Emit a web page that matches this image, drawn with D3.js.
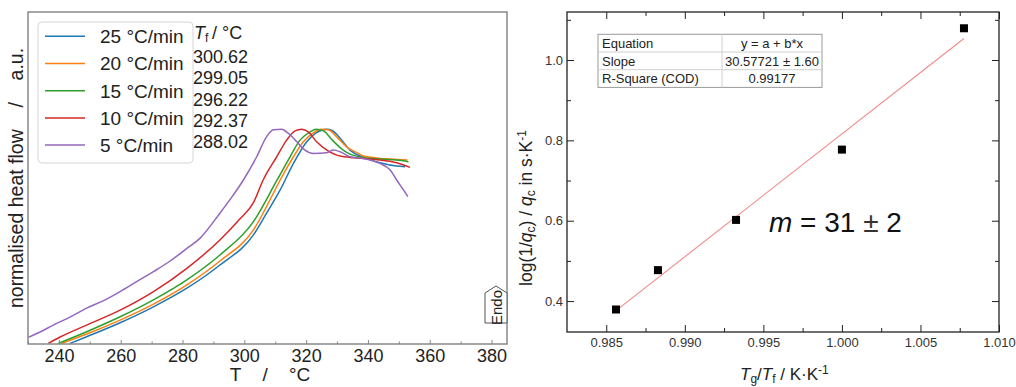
<!DOCTYPE html>
<html>
<head>
<meta charset="utf-8">
<script src="https://cdn.jsdelivr.net/npm/d3@7"></script>
<style>
  body { margin: 0; background: #fff; }
  svg { display: block; font-family: "Liberation Sans", Arial, sans-serif; }
</style>
</head>
<body>
<svg id="chart" width="1016" height="387"></svg>
<script>
// ---- DSC heating curves (temperature in °C, normalised heat flow in a.u.) ----
const rates = ["25 °C/min", "20 °C/min", "15 °C/min", "10 °C/min", "5 °C/min"];
const tfValues = ["300.62", "299.05", "296.22", "292.37", "288.02"];

const dsc25 = [[243.6,0.002],[249.0,0.022],[259.8,0.064],[270.6,0.112],[281.4,0.168],[292.1,0.238],[302.9,0.328],[307.2,0.394],[311.6,0.464],[315.9,0.544],[320.2,0.609],[323.2,0.636],[326.7,0.647],[328.4,0.643],[331.0,0.620],[334.2,0.584],[338.5,0.562],[343.9,0.546],[349.3,0.536],[352.0,0.534]];
const dsc20 = [[240.9,0.002],[249.0,0.030],[259.8,0.072],[270.6,0.120],[281.4,0.178],[292.1,0.250],[302.9,0.343],[309.4,0.454],[311.6,0.494],[315.9,0.564],[319.1,0.609],[322.3,0.636],[325.0,0.647],[327.2,0.645],[329.9,0.624],[333.1,0.594],[336.9,0.574],[338.5,0.566],[343.9,0.559],[349.3,0.556],[352.8,0.554]];
const dsc15 = [[239.8,0.002],[249.0,0.037],[259.8,0.082],[270.6,0.133],[281.4,0.193],[292.1,0.268],[302.9,0.368],[310.6,0.494],[314.8,0.564],[318.0,0.614],[321.3,0.639],[323.2,0.647],[325.6,0.642],[328.8,0.611],[332.0,0.584],[334.2,0.572],[338.5,0.562],[343.9,0.557],[349.3,0.554],[353.1,0.549]];
const dsc10 = [[236.6,0.002],[240.4,0.021],[249.0,0.057],[259.8,0.102],[270.6,0.158],[281.4,0.228],[292.1,0.313],[298.6,0.377],[302.9,0.425],[306.1,0.494],[310.5,0.564],[313.7,0.614],[316.4,0.642],[318.6,0.647],[320.7,0.639],[323.4,0.609],[326.7,0.584],[329.9,0.569],[334.2,0.562],[338.5,0.559],[343.9,0.554],[349.3,0.546],[353.6,0.532]];
const dsc5 = [[230.1,0.020],[233.9,0.036],[238.2,0.057],[243.6,0.081],[249.0,0.108],[254.3,0.130],[259.8,0.158],[265.0,0.187],[270.6,0.218],[276.0,0.250],[281.4,0.288],[285.7,0.319],[292.1,0.394],[296.0,0.443],[299.7,0.494],[304.0,0.564],[307.2,0.624],[309.4,0.645],[312.1,0.647],[314.2,0.635],[317.0,0.609],[319.6,0.584],[322.3,0.574],[326.7,0.576],[328.8,0.584],[331.0,0.579],[334.2,0.564],[338.5,0.559],[343.9,0.544],[347.2,0.524],[349.3,0.494],[351.5,0.464],[352.9,0.444]];
const dscSeries = [dsc25, dsc20, dsc15, dsc10, dsc5];
const seriesColors = ["#1f77b4", "#ff7f0e", "#2ca02c", "#d62728", "#9467bd"];

const tempTicks = [240, 260, 280, 300, 320, 340, 360, 380];
const tempMinorTicks = [230, 250, 270, 290, 310, 330, 350, 370];

// ---- Fragility plot: Tg/Tf vs log(1/qc)/qc ----
const ratioValues = [0.98562, 0.98829, 0.99326, 1.00000, 1.00777];
const logRateValues = [0.379, 0.477, 0.602, 0.777, 1.079];
const fitSlope = 30.57721;
const fitTable = [["Equation", "y = a + b*x"], ["Slope", "30.57721 ± 1.60"], ["R-Square (COD)", "0.99177"]];
const ratioTicks = [0.985, 0.990, 0.995, 1.000, 1.005, 1.010];
const ratioMinorTicks = [0.9875, 0.9925, 0.9975, 1.0025, 1.0075];
const logTicks = [0.4, 0.6, 0.8, 1.0];
const logMinorTicks = [0.5, 0.7, 0.9, 1.1];

const svg = d3.select("#chart");

// ================= Left panel: DSC curves =================
const L = { left: 28, right: 507, top: 12, bottom: 344 };
const xT = d3.scaleLinear().domain([230, 385]).range([L.left, L.right]);
const yH = d3.scaleLinear().domain([0, 1]).range([L.bottom, L.top]);

const left = svg.append("g");
left.append("clipPath").attr("id", "clipL").append("rect")
  .attr("x", L.left).attr("y", L.top).attr("width", L.right - L.left).attr("height", L.bottom - L.top);

const line = d3.line().x(d => xT(d[0])).y(d => yH(d[1])).curve(d3.curveMonotoneX);
left.append("g").attr("clip-path", "url(#clipL)")
  .selectAll("path").data(dscSeries).join("path")
  .attr("d", line).attr("fill", "none")
  .attr("stroke", (d, i) => seriesColors[i]).attr("stroke-width", 1.5);

// minor ticks
left.append("g").attr("transform", `translate(0,${L.bottom})`)
  .call(d3.axisBottom(xT).tickValues(tempMinorTicks).tickSizeInner(-2.5).tickSizeOuter(0).tickFormat(""))
  .call(g => g.select(".domain").remove())
  .call(g => g.selectAll("line").attr("stroke", "#888"));
// major ticks with labels
left.append("g").attr("transform", `translate(0,${L.bottom})`)
  .call(d3.axisBottom(xT).tickValues(tempTicks).tickSizeInner(-4).tickSizeOuter(0).tickPadding(5))
  .call(g => g.select(".domain").remove())
  .call(g => g.selectAll("line").attr("stroke", "#888"))
  .call(g => g.selectAll("text").attr("font-size", 18).attr("fill", "#222")
    .attr("font-family", "Liberation Sans, Arial, sans-serif"));

left.append("rect").attr("x", L.left).attr("y", L.top)
  .attr("width", L.right - L.left).attr("height", L.bottom - L.top)
  .attr("fill", "none").attr("stroke", "#808080").attr("stroke-width", 1.4);

// axis titles
left.append("text").attr("x", 270).attr("y", 381).attr("text-anchor", "middle")
  .attr("font-size", 19).attr("fill", "#222")
  .text("T\u00a0\u00a0\u00a0\u00a0/\u00a0\u00a0\u00a0\u00a0°C");
left.append("text").attr("transform", "translate(23,178) rotate(-90)").attr("text-anchor", "middle")
  .attr("font-size", 19.5).attr("fill", "#222")
  .text("normalised heat flow\u00a0\u00a0\u00a0\u00a0/\u00a0\u00a0\u00a0\u00a0a.u.");

// legend
const leg = left.append("g");
leg.append("rect").attr("x", 38).attr("y", 22).attr("width", 155).attr("height", 141)
  .attr("rx", 4).attr("fill", "#fff").attr("fill-opacity", 0.9)
  .attr("stroke", "#d6d6d6").attr("stroke-width", 1);
rates.forEach((r, i) => {
  const yy = 36.3 + i * 27.2;
  leg.append("line").attr("x1", 45).attr("x2", 85).attr("y1", yy).attr("y2", yy)
    .attr("stroke", seriesColors[i]).attr("stroke-width", 1.5);
  leg.append("text").attr("x", 100).attr("y", yy + 6.8).attr("font-size", 19).attr("fill", "#222").text(r);
});

// Tf column
const tf = left.append("text").attr("x", 194).attr("y", 39.3).attr("font-size", 18).attr("fill", "#222");
tf.append("tspan").attr("font-style", "italic").text("T");
tf.append("tspan").attr("font-size", 12).attr("dy", 3).text("f");
tf.append("tspan").attr("dy", -3).text("\u2009/ °C");
tfValues.forEach((v, i) => {
  left.append("text").attr("x", 193).attr("y", 62.7 + i * 21.4)
    .attr("font-size", 18).attr("fill", "#222").text(v);
});

// Endo marker
const endo = left.append("g");
endo.append("path")
  .attr("d", "M485,323 L485,293 L496,286 L507,293 L507,323 Z")
  .attr("fill", "#fff").attr("stroke", "#555").attr("stroke-width", 1);
endo.append("text").attr("transform", "translate(501.5,307.5) rotate(-90)").attr("text-anchor", "middle")
  .attr("font-size", 15).attr("fill", "#222").text("Endo");

// ================= Right panel: fragility fit =================
const R = { left: 567, right: 999, top: 12, bottom: 332 };
const xR = d3.scaleLinear().domain([0.9825, 1.0100]).range([R.left, R.right]);
const yR = d3.scaleLinear().domain([0.323, 1.1195]).range([R.bottom, R.top]);
const right = svg.append("g");

const fmt3 = d3.format(".3f"), fmt1 = d3.format(".1f");
const axisStyle = g => {
  g.select(".domain").remove();
  g.selectAll("line").attr("stroke", "#222").attr("stroke-width", 1);
  g.selectAll("text").attr("font-size", 13).attr("fill", "#333")
    .attr("font-family", "Liberation Sans, Arial, sans-serif");
};
// bottom
right.append("g").attr("transform", `translate(0,${R.bottom})`)
  .call(d3.axisBottom(xR).tickValues(ratioTicks).tickSizeInner(-7).tickSizeOuter(0).tickPadding(5.5).tickFormat(fmt3))
  .call(axisStyle);
right.append("g").attr("transform", `translate(0,${R.bottom})`)
  .call(d3.axisBottom(xR).tickValues(ratioMinorTicks).tickSizeInner(-4).tickSizeOuter(0).tickFormat(""))
  .call(axisStyle);
// top (mirror)
right.append("g").attr("transform", `translate(0,${R.top})`)
  .call(d3.axisTop(xR).tickValues(ratioTicks).tickSizeInner(-7).tickSizeOuter(0).tickFormat(""))
  .call(axisStyle);
right.append("g").attr("transform", `translate(0,${R.top})`)
  .call(d3.axisTop(xR).tickValues(ratioMinorTicks).tickSizeInner(-4).tickSizeOuter(0).tickFormat(""))
  .call(axisStyle);
// left
right.append("g").attr("transform", `translate(${R.left},0)`)
  .call(d3.axisLeft(yR).tickValues(logTicks).tickSizeInner(-7).tickSizeOuter(0).tickPadding(4).tickFormat(fmt1))
  .call(axisStyle);
right.append("g").attr("transform", `translate(${R.left},0)`)
  .call(d3.axisLeft(yR).tickValues(logMinorTicks).tickSizeInner(-4).tickSizeOuter(0).tickFormat(""))
  .call(axisStyle);
// right (mirror)
right.append("g").attr("transform", `translate(${R.right},0)`)
  .call(d3.axisRight(yR).tickValues(logTicks).tickSizeInner(-7).tickSizeOuter(0).tickFormat(""))
  .call(axisStyle);
right.append("g").attr("transform", `translate(${R.right},0)`)
  .call(d3.axisRight(yR).tickValues(logMinorTicks).tickSizeInner(-4).tickSizeOuter(0).tickFormat(""))
  .call(axisStyle);

right.append("rect").attr("x", R.left).attr("y", R.top)
  .attr("width", R.right - R.left).attr("height", R.bottom - R.top)
  .attr("fill", "none").attr("stroke", "#222").attr("stroke-width", 1.3);

// linear fit with the tabulated slope; intercept through the data centroid
const mx = d3.mean(ratioValues), my = d3.mean(logRateValues);
const intercept = my - fitSlope * mx;
const x0 = d3.min(ratioValues), x1 = d3.max(ratioValues);
right.append("line")
  .attr("x1", xR(x0)).attr("y1", yR(intercept + fitSlope * x0))
  .attr("x2", xR(x1)).attr("y2", yR(intercept + fitSlope * x1))
  .attr("stroke", "#f28a8a").attr("stroke-width", 1.1);

// data points
right.selectAll("rect.pt").data(ratioValues).join("rect").attr("class", "pt")
  .attr("x", d => xR(d) - 4).attr("y", (d, i) => yR(logRateValues[i]) - 4)
  .attr("width", 8).attr("height", 8).attr("fill", "#000");

// fit table
const tb = right.append("g");
const tx0 = 598, tx1 = 822, tcol = 722, ty0 = 34.3, rowH = 17.7;
tb.append("rect").attr("x", tx0).attr("y", ty0).attr("width", tx1 - tx0).attr("height", rowH * 3)
  .attr("fill", "#fff").attr("stroke", "#9a9a9a").attr("stroke-width", 1);
[1, 2].forEach(k => tb.append("line").attr("x1", tx0).attr("x2", tx1)
  .attr("y1", ty0 + k * rowH).attr("y2", ty0 + k * rowH).attr("stroke", "#d0d0d0"));
tb.append("line").attr("x1", tcol).attr("x2", tcol).attr("y1", ty0).attr("y2", ty0 + 3 * rowH).attr("stroke", "#d0d0d0");
fitTable.forEach((row, i) => {
  const by = ty0 + i * rowH + 13.5;
  tb.append("text").attr("x", tx0 + 4).attr("y", by).attr("font-size", 13).attr("fill", "#222").text(row[0]);
  tb.append("text").attr("x", (tcol + tx1) / 2).attr("y", by).attr("text-anchor", "middle")
    .attr("font-size", 13).attr("fill", "#222").text(row[1]);
});

// fragility annotation
const mt = right.append("text").attr("x", 769).attr("y", 232).attr("font-size", 28).attr("fill", "#111");
mt.append("tspan").attr("font-style", "italic").text("m");
mt.append("tspan").text(" = 31 ");
mt.append("tspan").attr("font-weight", 300).attr("fill", "#333").text("±");
mt.append("tspan").text(" 2");

// axis titles
const xl = right.append("text").attr("x", 740).attr("y", 380).attr("font-size", 17).attr("fill", "#222");
xl.append("tspan").attr("font-style", "italic").text("T");
xl.append("tspan").attr("font-size", 12).attr("dy", 3).text("g");
xl.append("tspan").attr("dy", -3).text("/");
xl.append("tspan").attr("font-style", "italic").text("T");
xl.append("tspan").attr("font-size", 12).attr("dy", 3).text("f");
xl.append("tspan").attr("dy", -3).text(" / K·K");
xl.append("tspan").attr("font-size", 12).attr("dy", -6).text("-1");

const yl = right.append("text").attr("transform", "translate(532,208) rotate(-90)")
  .attr("text-anchor", "middle").attr("font-size", 17.5).attr("fill", "#222");
yl.append("tspan").text("log(1/");
yl.append("tspan").attr("font-style", "italic").text("q");
yl.append("tspan").attr("font-size", 12).attr("dy", 3).text("c");
yl.append("tspan").attr("dy", -3).text(") / ");
yl.append("tspan").attr("font-style", "italic").text("q");
yl.append("tspan").attr("font-size", 12).attr("dy", 3).text("c");
yl.append("tspan").attr("dy", -3).text(" in s·K");
yl.append("tspan").attr("font-size", 12).attr("dy", -6).text("-1");
</script>
</body>
</html>
